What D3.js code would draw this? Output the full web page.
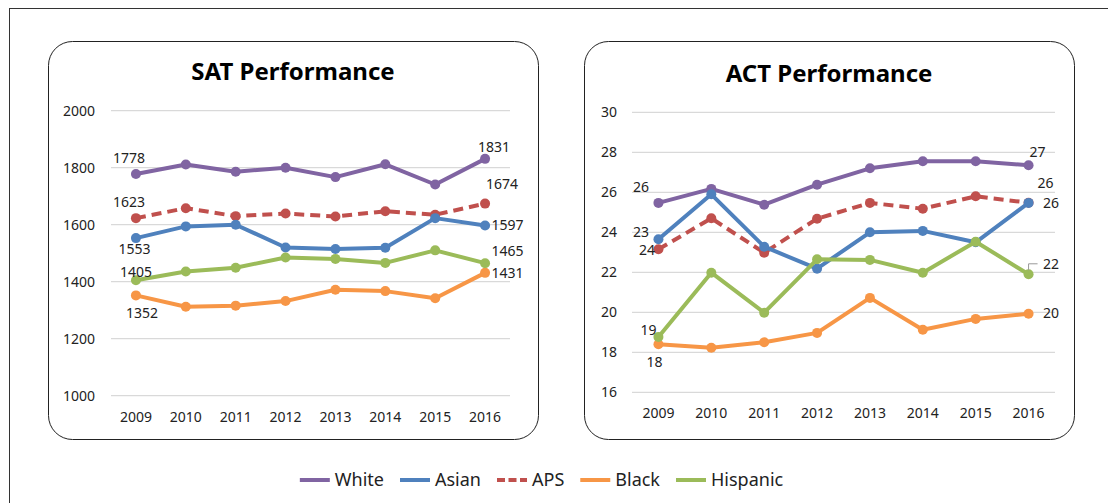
<!DOCTYPE html>
<html lang="en">
<head>
    <meta charset="UTF-8">
    <title>SAT / ACT Performance</title>
    <script src="https://cdn.jsdelivr.net/npm/d3@7"></script>
    <style>
        body { margin: 0; background: #fff; }
        svg { display: block; font-family: "Noto Sans", sans-serif; }
        .grid line { stroke: #d9d9d9; stroke-width: 1.2; }
        .tick-label { font-size: 14px; fill: #222; }
        .val-label { font-size: 14px; fill: #222; }
        .title { font-size: 24px; font-weight: bold; fill: #000; text-anchor: middle; }
        .legend text { font-size: 18px; fill: #222; }
    </style>
</head>
<body>
    <svg width="1108" height="503"></svg>

    <script>
        // 数据
        const years = ["2009", "2010", "2011", "2012", "2013", "2014", "2015", "2016"];
        const seriesNames = ["White", "Asian", "APS", "Black", "Hispanic"];

        const satWhite    = [1778, 1811, 1786, 1800, 1767, 1812, 1741, 1831];
        const satAsian    = [1553, 1594, 1600, 1520, 1515, 1519, 1623, 1597];
        const satAPS      = [1623, 1658, 1630, 1639, 1629, 1647, 1635, 1674];
        const satBlack    = [1352, 1312, 1316, 1332, 1372, 1367, 1342, 1431];
        const satHispanic = [1405, 1436, 1449, 1485, 1480, 1466, 1510, 1465];
        const satTicks = [1000, 1200, 1400, 1600, 1800, 2000];

        const actWhite    = [25.47, 26.17, 25.38, 26.38, 27.2, 27.55, 27.55, 27.35];
        const actAsian    = [23.65, 25.9, 23.28, 22.18, 24.0, 24.07, 23.5, 25.47];
        const actAPS      = [23.15, 24.7, 22.98, 24.68, 25.47, 25.18, 25.8, 25.48];
        const actBlack    = [18.4, 18.23, 18.5, 18.97, 20.72, 19.13, 19.67, 19.93];
        const actHispanic = [18.77, 21.98, 19.98, 22.65, 22.62, 21.98, 23.53, 21.9];
        const actTicks = [16, 18, 20, 22, 24, 26, 28, 30];

        // 首尾数据标签（图中显示的文字）
        const satFirstLabels = { White: "1778", Asian: "1553", APS: "1623", Black: "1352", Hispanic: "1405" };
        const satLastLabels  = { White: "1831", Asian: "1597", APS: "1674", Black: "1431", Hispanic: "1465" };
        const actFirstLabels = { White: "26", Asian: "23", APS: "24", Black: "18", Hispanic: "19" };
        const actLastLabels  = { White: "27", Asian: "26", APS: "26", Black: "20", Hispanic: "22" };

        // 样式
        const colors = {
            White: "#8064a2", Asian: "#4f81bd", APS: "#c0504d",
            Black: "#f79646", Hispanic: "#9bbb59"
        };
        const drawOrder = ["APS", "White", "Asian", "Black", "Hispanic"];

        // 标签偏移 [dx, dy]（相对数据点）
        const satLabelOff = {
            White:    { first: [-7, -16], last: [9, -12] },
            APS:      { first: [-7, -16], last: [17, -20] },
            Asian:    { first: [-1.5, 11], last: [22.5, 0] },
            Hispanic: { first: [0, -8],   last: [22.5, -12] },
            Black:    { first: [6, 18],   last: [22.5, 0] }
        };
        const actLabelOff = {
            White:    { first: [-17.5, -16], last: [9, -13] },
            APS:      { first: [-11.5, 1],   last: [17, -20] },
            Asian:    { first: [-17.5, -7],  last: [22.5, 0] },
            Hispanic: { first: [-10, -7],    last: [22.5, -10] },
            Black:    { first: [-4, 18],     last: [22.5, -1] }
        };

        const svg = d3.select("svg");

        // 外框
        svg.append("rect")
            .attr("x", 9.5).attr("y", 8.5)
            .attr("width", 1200).attr("height", 600)
            .attr("fill", "none").attr("stroke", "#333").attr("stroke-width", 1);

        function drawPanel(p) {
            const g = svg.append("g");

            g.append("rect")
                .attr("x", p.box[0] + 0.5).attr("y", p.box[1] + 0.5)
                .attr("width", p.box[2]).attr("height", p.box[3])
                .attr("rx", 24).attr("ry", 24)
                .attr("fill", "#fff").attr("stroke", "#222").attr("stroke-width", 1);

            g.append("text")
                .attr("class", "title")
                .attr("x", p.box[0] + p.box[2] / 2)
                .attr("y", p.titleY)
                .attr("dy", "0.35em")
                .text(p.title);

            const x = d3.scaleBand()
                .domain(years)
                .range(p.xRange)
                .padding(0);
            const cx = d => x(d) + x.bandwidth() / 2;

            const y = d3.scaleLinear()
                .domain(p.yDomain)
                .range(p.yRange);

            // 网格线
            g.append("g").attr("class", "grid")
                .selectAll("line")
                .data(p.ticks)
                .join("line")
                .attr("x1", p.xRange[0]).attr("x2", p.xRange[1])
                .attr("y1", d => y(d)).attr("y2", d => y(d));

            // y 轴标签
            g.append("g")
                .selectAll("text")
                .data(p.ticks)
                .join("text")
                .attr("class", "tick-label")
                .attr("x", p.yLabelX)
                .attr("y", d => y(d))
                .attr("dy", "0.35em")
                .attr("text-anchor", "end")
                .text(d => d);

            // x 轴标签
            g.append("g")
                .selectAll("text")
                .data(years)
                .join("text")
                .attr("class", "tick-label")
                .attr("x", d => cx(d))
                .attr("y", p.xLabelY)
                .attr("dy", "0.35em")
                .attr("text-anchor", "middle")
                .text(d => d);

            const line = d3.line()
                .x((d, i) => cx(years[i]))
                .y(d => y(d));

            drawOrder.forEach(name => {
                const vals = p.series[name];
                g.append("path")
                    .datum(vals)
                    .attr("fill", "none")
                    .attr("stroke", colors[name])
                    .attr("stroke-width", 4)
                    .attr("stroke-linejoin", "round")
                    .attr("stroke-dasharray", name === "APS" ? "10,6" : null)
                    .attr("d", line);

                g.append("g")
                    .selectAll("circle")
                    .data(vals)
                    .join("circle")
                    .attr("cx", (d, i) => cx(years[i]))
                    .attr("cy", d => y(d))
                    .attr("r", 5)
                    .attr("fill", colors[name]);
            });

            // 首尾数值标签
            seriesNames.forEach(name => {
                const vals = p.series[name];
                const off = p.labelOff[name];
                const last = vals.length - 1;
                [[0, off.first, p.firstLabels[name]], [last, off.last, p.lastLabels[name]]]
                    .forEach(([i, o, txt]) => {
                        g.append("text")
                            .attr("class", "val-label")
                            .attr("x", cx(years[i]) + o[0])
                            .attr("y", y(vals[i]) + o[1])
                            .attr("dy", "0.35em")
                            .attr("text-anchor", "middle")
                            .text(txt);
                    });
            });

            if (p.extra) p.extra(g, cx, y);
        }

        drawPanel({
            title: "SAT Performance",
            box: [48, 41, 490, 398],
            titleY: 72,
            xRange: [111, 510],
            yDomain: [1000, 2000],
            yRange: [395.7, 110.7],
            ticks: satTicks,
            yLabelX: 95,
            xLabelY: 417,
            series: { White: satWhite, Asian: satAsian, APS: satAPS, Black: satBlack, Hispanic: satHispanic },
            labelOff: satLabelOff,
            firstLabels: satFirstLabels,
            lastLabels: satLastLabels
        });

        drawPanel({
            title: "ACT Performance",
            box: [584, 41, 490, 398],
            titleY: 74,
            xRange: [632, 1055],
            yDomain: [16, 30],
            yRange: [392.3, 112.3],
            ticks: actTicks,
            yLabelX: 617,
            xLabelY: 413,
            series: { White: actWhite, Asian: actAsian, APS: actAPS, Black: actBlack, Hispanic: actHispanic },
            labelOff: actLabelOff,
            firstLabels: actFirstLabels,
            lastLabels: actLastLabels,
            extra: (g, cx, y) => {
                // 2016 Hispanic 标签的引导线
                const px = cx("2016"), py = y(actHispanic[7]);
                g.append("path")
                    .attr("d", `M${px},${py - 4}V${py - 10.5}H${px + 9}`)
                    .attr("fill", "none")
                    .attr("stroke", "#999")
                    .attr("stroke-width", 1);
            }
        });

        // 图例
        const legend = svg.append("g").attr("class", "legend");
        let lx = 0;
        seriesNames.forEach(name => {
            const item = legend.append("g").attr("transform", `translate(${lx},0)`);
            item.append("line")
                .attr("x1", 0).attr("x2", 30)
                .attr("y1", 0).attr("y2", 0)
                .attr("stroke", colors[name])
                .attr("stroke-width", 4)
                .attr("stroke-dasharray", name === "APS" ? "8,3.5" : null);
            const t = item.append("text")
                .attr("x", 35)
                .attr("dy", "0.35em")
                .text(name);
            lx += 35 + t.node().getComputedTextLength() + 16;
        });
        const legendW = lx - 16;
        legend.attr("transform", `translate(${541.5 - legendW / 2},480)`);
    </script>
</body>
</html>
